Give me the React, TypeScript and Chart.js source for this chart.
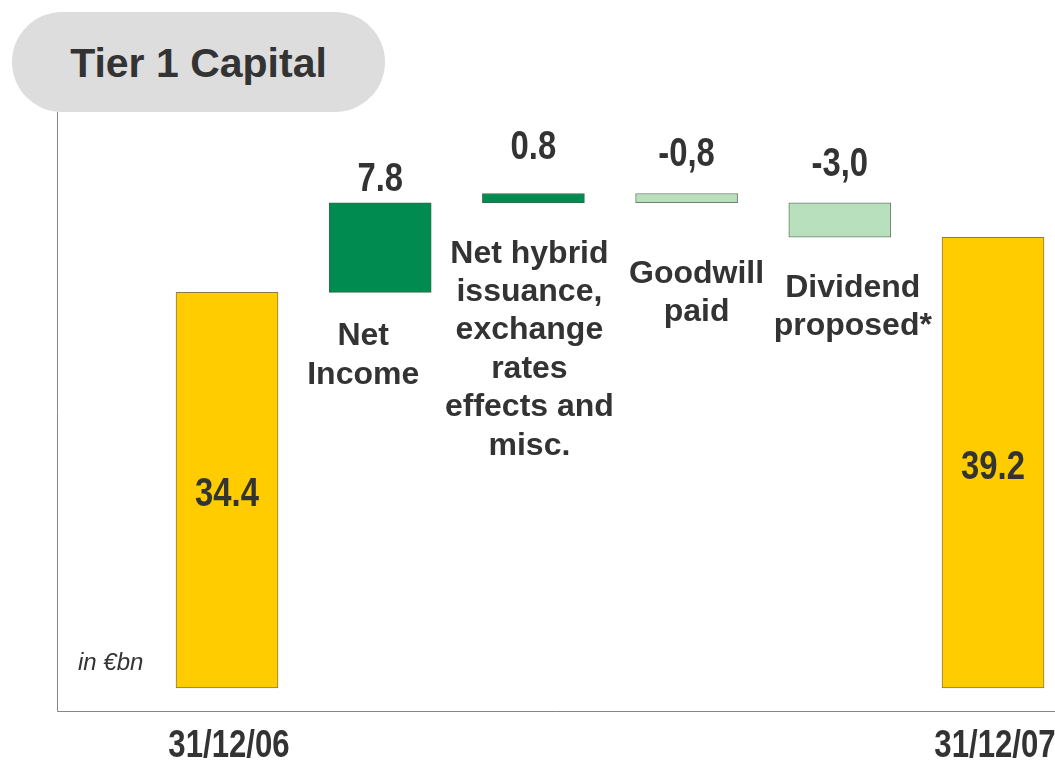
import React, { useEffect, useRef } from "react";
import { Chart, registerables } from "chart.js";

Chart.register(...registerables);

// ---- data ----
const dateLabels = ["31/12/06", "", "", "", "", "31/12/07"];
const startValue = 34.4;
const deltas = [7.8, 0.8, -0.8, -3.0];
const endValue = 39.2;
const valueLabels = ["34.4", "7.8", "0.8", "-0,8", "-3,0", "39.2"];
const stepLabels: string[][] = [
  [],
  ["Net", "Income"],
  ["Net hybrid", "issuance,", "exchange", "rates", "effects and", "misc."],
  ["Goodwill", "paid"],
  ["Dividend", "proposed*"],
  [],
];
const unitLabel = "in €bn";
const titleText = "Tier 1 Capital";

// ---- styles ----
const YELLOW = "#FFCC00";
const DARK_GREEN = "#008C50";
const LIGHT_GREEN = "#B9E0BC";
const TEXT = "#333333";
const SANS = "'Liberation Sans', Arial, sans-serif";
const NARROW_SCALE = 0.82;
// label placement tweaks (pixels)
const valueOffsets = [0, 23, 46, 39, 38, 0];
const stepDx = [0, -17, -4, 10, 13, 0];
const stepDy = [0, 44, 51, 71, 51, 0];

function buildRanges(): [number, number][] {
  const out: [number, number][] = [[0, startValue]];
  let cur = startValue;
  for (const d of deltas) {
    const next = +(cur + d).toFixed(2);
    out.push([cur, next]);
    cur = next;
  }
  out.push([0, endValue]);
  return out;
}

function narrowText(ctx: CanvasRenderingContext2D, text: string, x: number, y: number, size: number) {
  ctx.save();
  ctx.translate(x, y);
  ctx.scale(NARROW_SCALE, 1);
  ctx.font = `bold ${size}px ${SANS}`;
  ctx.textAlign = "center";
  ctx.textBaseline = "middle";
  ctx.fillText(text, 0, 0);
  ctx.restore();
}

const labelPlugin = {
  id: "wfLabels",
  afterDatasetsDraw(chart: any) {
    const ctx = chart.ctx;
    const area = chart.chartArea;
    ctx.save();
    // axis lines
    ctx.strokeStyle = "#858585";
    ctx.lineWidth = 1;
    ctx.beginPath();
    ctx.moveTo(Math.round(area.left) + 0.5, area.top);
    ctx.lineTo(Math.round(area.left) + 0.5, Math.round(area.bottom) + 0.5);
    ctx.lineTo(area.right, Math.round(area.bottom) + 0.5);
    ctx.stroke();

    const meta = chart.getDatasetMeta(0);
    ctx.fillStyle = TEXT;
    meta.data.forEach((bar: any, i: number) => {
      const top = Math.min(bar.y, bar.base);
      const bottom = Math.max(bar.y, bar.base);
      if (i === 0 || i === meta.data.length - 1) {
        narrowText(ctx, valueLabels[i], bar.x, (top + bottom) / 2 + 5, 40);
      } else {
        narrowText(ctx, valueLabels[i], bar.x, top - valueOffsets[i], 40);
        ctx.font = `bold 32px ${SANS}`;
        ctx.textAlign = "center";
        ctx.textBaseline = "middle";
        stepLabels[i].forEach((line, k) => {
          ctx.fillText(line, bar.x + stepDx[i], bottom + stepDy[i] + k * 38.4);
        });
      }
      if (dateLabels[i]) {
        narrowText(ctx, dateLabels[i], bar.x + 2, area.bottom + 36, 38);
      }
    });
    ctx.font = `italic 24px ${SANS}`;
    ctx.textAlign = "left";
    ctx.textBaseline = "middle";
    ctx.fillText(unitLabel, area.left + 21, 663);
    ctx.restore();
  },
};

export default function App() {
  const ref = useRef<HTMLCanvasElement | null>(null);
  useEffect(() => {
    if (!ref.current) return;
    const ranges = buildRanges();
    const data = ranges.map((r, i) => ({ x: i + 1, y: r }));
    const bg = ranges.map((r, i) =>
      i === 0 || i === ranges.length - 1 ? YELLOW : r[1] >= r[0] ? DARK_GREEN : LIGHT_GREEN
    );
    const border = ranges.map((r, i) =>
      i === 0 || i === ranges.length - 1 ? "#8A7A3C" : r[1] >= r[0] ? "#2E6B4A" : "#6B7F6E"
    );
    const chart = new Chart(ref.current, {
      type: "bar",
      data: {
        datasets: [
          {
            data: data as any,
            backgroundColor: bg,
            borderColor: border,
            borderWidth: 1,
            borderSkipped: false,
            barThickness: 102,
          },
        ],
      },
      options: {
        animation: false,
        responsive: false,
        events: [],
        layout: { padding: { left: 57, top: 112, right: 0, bottom: 51 } },
        plugins: { legend: { display: false }, tooltip: { enabled: false }, title: { display: false } },
        scales: {
          x: { type: "linear", display: false, offset: false, min: -0.1097, max: 6.4047 },
          y: { type: "linear", display: false, min: -2, max: 50.09 },
        },
      },
      plugins: [labelPlugin],
    });
    return () => chart.destroy();
  }, []);

  return (
    <div style={{ position: "absolute", left: 0, top: 0, width: 1055, height: 762, background: "#fff" }}>
      <canvas ref={ref} width={1055} height={762} style={{ position: "absolute", left: 0, top: 0 }} />
      <div
        style={{
          position: "absolute",
          left: 12,
          top: 12,
          width: 373,
          height: 100,
          borderRadius: 50,
          background: "#DDDDDD",
          display: "flex",
          alignItems: "center",
          justifyContent: "center",
          fontFamily: SANS,
          fontWeight: "bold",
          fontSize: 41,
          color: TEXT,
          boxSizing: "border-box",
          paddingTop: 2,
        }}
      >
        {titleText}
      </div>
    </div>
  );
}
